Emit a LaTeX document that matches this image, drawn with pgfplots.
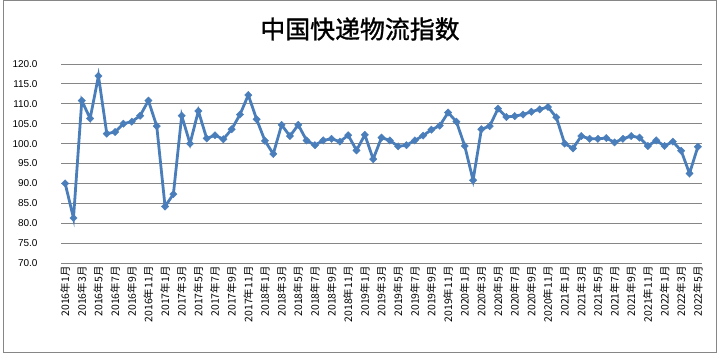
\documentclass[border=0pt]{standalone}
\usepackage{fontspec}
\setmainfont{Liberation Sans}
\newfontfamily\cjk{Noto Sans CJK SC}
\newfontfamily\cjktitle[FakeBold=1.2]{Noto Sans CJK SC}
\usepackage{pgfplots}
\pgfplotsset{compat=1.18}
\usepackage{pgfplotstable}
\definecolor{lineblue}{RGB}{74,126,187}
\definecolor{gridgray}{RGB}{134,134,134}
\pgfplotstableread{
i v
0 90.0
1 81.3
2 110.8
3 106.3
4 117.0
5 102.5
6 102.9
7 105.0
8 105.5
9 107.0
10 110.8
11 104.4
12 84.2
13 87.3
14 107.0
15 100.0
16 108.2
17 101.3
18 102.1
19 101.1
20 103.6
21 107.3
22 112.2
23 106.1
24 100.7
25 97.4
26 104.7
27 101.9
28 104.7
29 100.8
30 99.6
31 100.8
32 101.2
33 100.5
34 102.1
35 98.3
36 102.2
37 96.1
38 101.5
39 100.8
40 99.3
41 99.6
42 100.8
43 102.0
44 103.5
45 104.5
46 107.8
47 105.5
48 99.4
49 90.8
50 103.6
51 104.4
52 108.8
53 106.7
54 106.9
55 107.3
56 108.0
57 108.6
58 109.2
59 106.6
60 100.0
61 98.8
62 101.9
63 101.2
64 101.2
65 101.4
66 100.3
67 101.2
68 101.9
69 101.5
70 99.4
71 100.8
72 99.4
73 100.5
74 98.2
75 92.5
76 99.2
}\data
\begin{document}
\begin{tikzpicture}
\draw[gridgray, line width=0.8bp] (3bp,6bp) rectangle (716bp,357.6bp);
\node[font=\cjktitle\fontsize{25}{27}\selectfont] at (360bp,329bp) {中国快递物流指数};
\begin{axis}[
  at={(61bp,95bp)}, anchor=south west,
  scale only axis, width=641bp, height=199bp,
  xmin=-0.5, xmax=76.5, ymin=70, ymax=120,
  ytick={70,75,...,120},
  xtick={0,2,...,76},
  xticklabels={2016年1月,2016年3月,2016年5月,2016年7月,2016年9月,2016年11月,
    2017年1月,2017年3月,2017年5月,2017年7月,2017年9月,2017年11月,
    2018年1月,2018年3月,2018年5月,2018年7月,2018年9月,2018年11月,
    2019年1月,2019年3月,2019年5月,2019年7月,2019年9月,2019年11月,
    2020年1月,2020年3月,2020年5月,2020年7月,2020年9月,2020年11月,
    2021年1月,2021年3月,2021年5月,2021年7月,2021年9月,2021年11月,
    2022年1月,2022年3月,2022年5月},
  x tick label style={rotate=90, anchor=east, font=\cjk\fontsize{10.5}{11}\selectfont, yshift=0bp},
  y tick label style={font=\fontsize{10}{12}\selectfont, xshift=-20bp,
    /pgf/number format/fixed, /pgf/number format/fixed zerofill,
    /pgf/number format/precision=1, /pgf/number format/assume math mode=true},
  axis line style={draw=none},
  major tick length=0pt,
  tick style={draw=none},
  ymajorgrids,
  grid style={gridgray, line width=0.8bp},
  clip=false,
]
\addplot[lineblue, line width=2.8bp, mark=square*, mark size=2.6bp,
  mark options={solid, rotate=45, fill=lineblue, line width=0.4bp}] table[x=i,y=v]{\data};
\end{axis}
\pgfresetboundingbox
\path[use as bounding box] (0,0) rectangle (721bp,358bp);
\end{tikzpicture}
\end{document}
